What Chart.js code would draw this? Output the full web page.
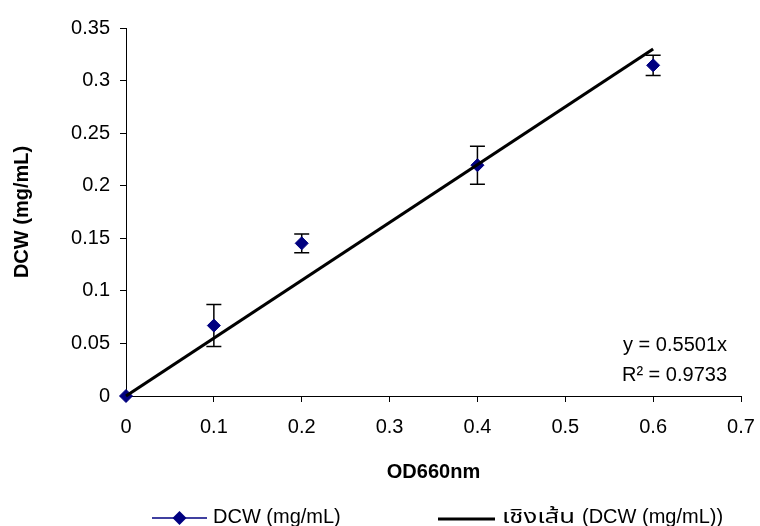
<!DOCTYPE html>
<html>
<head>
<meta charset="utf-8">
<script src="https://cdn.jsdelivr.net/npm/chart.js@4/dist/chart.umd.min.js"></script>
<style>
  html, body { margin: 0; padding: 0; background: #ffffff; }
  #wrap { width: 760px; height: 526px; position: relative; }
  canvas { display: block; }
</style>
</head>
<body>
<div id="wrap"><canvas id="c" width="760" height="526"></canvas></div>
<script>
// ---- data ----
const odValues = [0, 0.1, 0.2, 0.4, 0.6];
const dcwValues = [0, 0.067, 0.1452, 0.2195, 0.3145];
const dcwErrors = [0, 0.020, 0.0089, 0.018, 0.0096];
const trendX = [0, 0.6];
const trendY = [0, 0.33];
const xTicks = [0, 0.1, 0.2, 0.3, 0.4, 0.5, 0.6, 0.7];
const xTickLabels = ['0', '0.1', '0.2', '0.3', '0.4', '0.5', '0.6', '0.7'];
const yTicks = [0, 0.05, 0.1, 0.15, 0.2, 0.25, 0.3, 0.35];
const yTickLabels = ['0', '0.05', '0.1', '0.15', '0.2', '0.25', '0.3', '0.35'];
const seriesLabel = 'DCW (mg/mL)';
const trendLabel = 'เชิงเส้น (DCW (mg/mL))';
const xTitle = 'OD660nm';
const yTitle = 'DCW (mg/mL)';
const equationLines = ['y = 0.5501x', 'R² = 0.9733'];

// ---- styles ----
const FONT = '"Liberation Sans", Arial, "Noto Sans Thai", "Noto Sans", sans-serif';
const NAVY = '#000080';
Chart.defaults.font.family = FONT;
Chart.defaults.color = '#000';

const errorBarPlugin = {
  id: 'errorBars',
  beforeDatasetsDraw(chart) {
    const ctx = chart.ctx, xs = chart.scales.x, ys = chart.scales.y;
    ctx.save();
    ctx.strokeStyle = '#000';
    ctx.lineWidth = 1.5;
    odValues.forEach((xv, i) => {
      const e = dcwErrors[i];
      if (!e) return;
      const px = xs.getPixelForValue(xv);
      const top = ys.getPixelForValue(dcwValues[i] + e);
      const bot = ys.getPixelForValue(dcwValues[i] - e);
      ctx.beginPath();
      ctx.moveTo(px, top); ctx.lineTo(px, bot);
      ctx.moveTo(px - 7.5, top); ctx.lineTo(px + 7.5, top);
      ctx.moveTo(px - 7.5, bot); ctx.lineTo(px + 7.5, bot);
      ctx.stroke();
    });
    ctx.restore();
  }
};

const equationPlugin = {
  id: 'equation',
  afterDatasetsDraw(chart) {
    const ctx = chart.ctx, a = chart.chartArea;
    ctx.save();
    ctx.font = '20px ' + FONT;
    ctx.fillStyle = '#000';
    ctx.textAlign = 'right';
    ctx.textBaseline = 'alphabetic';
    ctx.fillText(equationLines[0], a.right - 14, a.bottom - 45);
    ctx.fillText(equationLines[1], a.right - 14, a.bottom - 15);
    ctx.restore();
  }
};

const legendPlugin = {
  id: 'customLegend',
  afterDraw(chart) {
    const ctx = chart.ctx;
    const ds = chart.data.datasets;
    const y = 518;
    ctx.save();
    ctx.font = '20px ' + FONT;
    ctx.fillStyle = '#000';
    ctx.textBaseline = 'alphabetic';
    ctx.textAlign = 'left';
    // series item
    ctx.strokeStyle = ds[0].borderColor;
    ctx.lineWidth = 1.5;
    ctx.beginPath(); ctx.moveTo(152, y); ctx.lineTo(207, y); ctx.stroke();
    ctx.fillStyle = ds[0].backgroundColor;
    ctx.beginPath();
    ctx.moveTo(179.5 - 7, y); ctx.lineTo(179.5, y - 7); ctx.lineTo(179.5 + 7, y); ctx.lineTo(179.5, y + 7);
    ctx.closePath(); ctx.fill();
    ctx.fillStyle = '#000';
    ctx.fillText(ds[0].label, 213, y + 5);
    // trend item
    ctx.strokeStyle = ds[1].borderColor;
    ctx.lineWidth = 3;
    ctx.beginPath(); ctx.moveTo(438, y + 1); ctx.lineTo(495, y + 1); ctx.stroke();
    const label = ds[1].label;
    const sp = label.indexOf(' ');
    const head = label.slice(0, sp);
    const tail = label.slice(sp + 1);
    const hw = ctx.measureText(head).width;
    const sx = hw > 0 ? 73 / hw : 1;
    ctx.save();
    ctx.translate(502, y + 5);
    ctx.scale(sx, 1);
    ctx.fillText(head, 0, 0);
    ctx.restore();
    ctx.fillText(tail, 582, y + 5);
    ctx.restore();
  }
};

const axisFont = { size: 20, family: FONT };
const titleFont = { size: 20, weight: 'bold', family: FONT };

new Chart(document.getElementById('c'), {
  type: 'scatter',
  data: {
    datasets: [
      {
        label: seriesLabel,
        data: odValues.map((x, i) => ({ x: x, y: dcwValues[i] })),
        pointStyle: 'rectRot',
        pointRadius: 6.5,
        pointHoverRadius: 6.5,
        backgroundColor: NAVY,
        borderColor: NAVY,
        borderWidth: 1,
        showLine: false,
        clip: false,
        order: 1
      },
      {
        label: trendLabel,
        data: trendX.map((x, i) => ({ x: x, y: trendY[i] })),
        showLine: true,
        borderColor: '#000',
        borderWidth: 3.2,
        pointRadius: 0,
        fill: false,
        clip: false,
        order: 0
      }
    ]
  },
  options: {
    responsive: false,
    animation: false,
    events: [],
    layout: { padding: { top: 28, right: 19, bottom: 0, left: 0 } },
    plugins: {
      legend: { display: false },
      tooltip: { enabled: false }
    },
    scales: {
      x: {
        type: 'linear',
        min: 0, max: 0.7,
        afterBuildTicks: s => { s.ticks = xTicks.map(v => ({ value: v })); },
        afterFit: s => { s.height = 130; s.paddingRight = 0; s.paddingLeft = 0; },
        grid: { display: true, drawOnChartArea: false, drawTicks: true, tickLength: 6, color: '#000', lineWidth: 1 },
        border: { display: true, color: '#000', width: 1 },
        ticks: {
          font: axisFont, color: '#000', padding: 13, maxRotation: 0, autoSkip: false,
          callback: (v, i) => xTickLabels[i]
        },
        title: { display: true, text: xTitle, font: titleFont, color: '#000', padding: { top: 0, bottom: 42 } }
      },
      y: {
        type: 'linear',
        min: 0, max: 0.35,
        afterBuildTicks: s => { s.ticks = yTicks.map(v => ({ value: v })); },
        afterFit: s => { s.width = 126; s.paddingTop = 0; s.paddingBottom = 0; },
        grid: { display: true, drawOnChartArea: false, drawTicks: true, tickLength: 6, color: '#000', lineWidth: 1 },
        border: { display: true, color: '#000', width: 1 },
        ticks: {
          font: axisFont, color: '#000', padding: 10, autoSkip: false,
          callback: (v, i) => yTickLabels[i]
        },
        title: { display: true, text: yTitle, font: titleFont, color: '#000', padding: { top: 10, bottom: 0 } }
      }
    }
  },
  plugins: [errorBarPlugin, equationPlugin, legendPlugin]
});
</script>
</body>
</html>
